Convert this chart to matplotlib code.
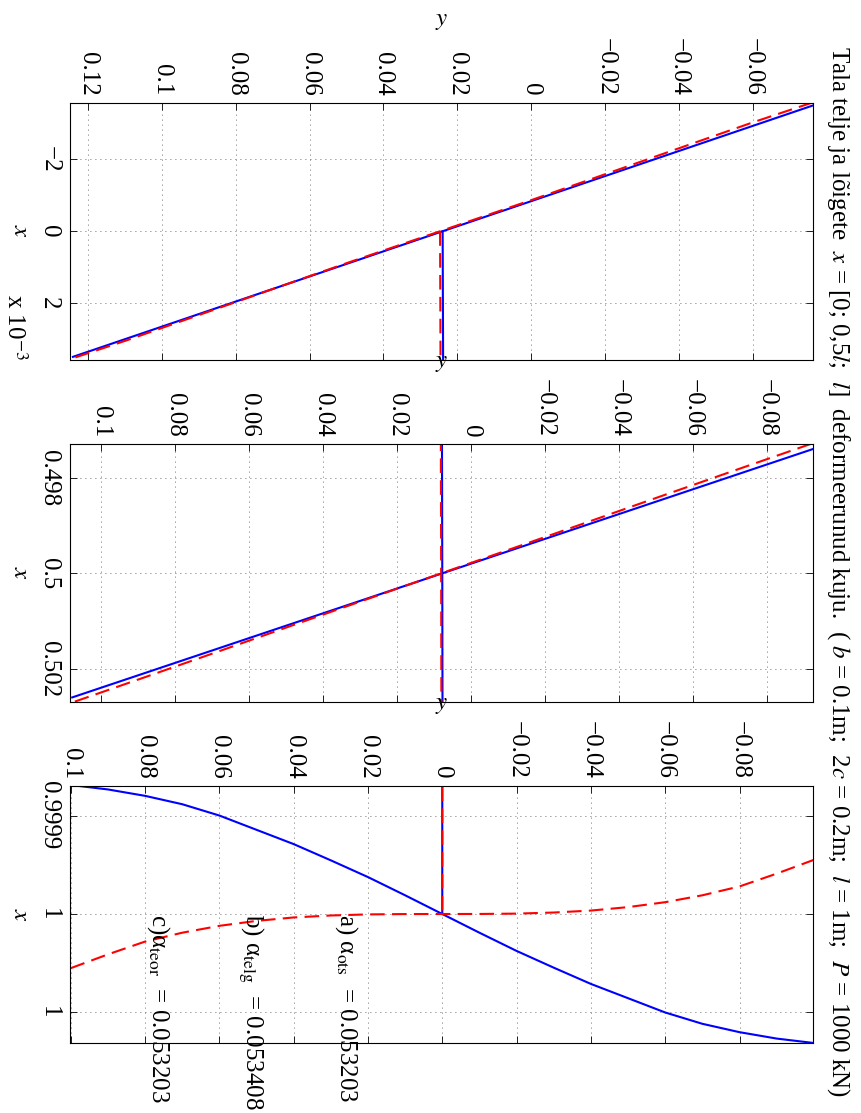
import matplotlib
matplotlib.use("Agg")
import matplotlib.pyplot as plt

plt.rcParams["font.family"] = ["Liberation Serif", "DejaVu Serif"]
plt.rcParams["mathtext.fontset"] = "stix"
plt.rcParams["font.size"] = 18

# beam axis: x along the beam, y = deflection
axis_x = [0.0, 0.25, 0.5, 0.75, 1.0]
axis_y_blue = [0.0240, 0.0152, 0.0077, 0.0021, 0.0]
axis_y_red = [0.0247, 0.0157, 0.0080, 0.0023, 0.0]

# section x = 0
sec0_y_blue = [-0.0760, 0.1240]
sec0_x_blue = [-0.00349, 0.00349]
sec0_y_red = [-0.0761, -0.0600, -0.0400, -0.0200, 0.0, 0.0247,
              0.0494, 0.0694, 0.0894, 0.1094, 0.1255]
sec0_x_red = [-0.003580, -0.003029, -0.002309, -0.001586, -0.000866, 0.0,
              0.000866, 0.001586, 0.002309, 0.003029, 0.003580]

# section x = 0.5l
sec1_y_blue = [-0.0923, 0.1077]
sec1_x_blue = [0.49740, 0.50260]
sec1_y_red = [-0.0920, -0.0720, -0.0520, -0.0320, -0.0120, 0.0080,
              0.0280, 0.0480, 0.0680, 0.0880, 0.1080]
sec1_x_red = [0.497285, 0.497825, 0.498368, 0.498915, 0.499459, 0.5,
              0.500541, 0.501085, 0.501632, 0.502175, 0.502715]

# section x = l
sec2_y = [0.1, 0.09, 0.08, 0.07, 0.06, 0.05, 0.04, 0.03, 0.02, 0.01, 0.0,
          -0.01, -0.02, -0.03, -0.04, -0.05, -0.06, -0.07, -0.08, -0.09, -0.1]
sec2_x_blue = [0.999869, 0.9998735, 0.999880, 0.9998885, 0.999900, 0.9999145,
               0.999929, 0.9999455, 0.9999625, 0.999981, 1.0,
               1.000019, 1.0000375, 1.0000545, 1.000071, 1.0000855,
               1.000100, 1.0001115, 1.000120, 1.0001265, 1.000131]
sec2_x_red = [1.000055, 1.000041, 1.000028, 1.000019, 1.000012, 1.000007,
              1.0000035, 1.0000015, 1.0000004, 1.00000005, 1.0,
              0.99999995, 0.9999996, 0.9999985, 0.9999965, 0.999993,
              0.999988, 0.999981, 0.999972, 0.999959, 0.999945]

sections = [
    (sec0_y_blue, sec0_x_blue, sec0_y_red, sec0_x_red),
    (sec1_y_blue, sec1_x_blue, sec1_y_red, sec1_x_red),
    (sec2_y, sec2_x_blue, sec2_y, sec2_x_red),
]

# axis limits (horizontal = y, vertical = x)
y_lims = [(0.1248, -0.0761), (0.1083, -0.0924), (0.1002, -0.0997)]
x_lims = [(0.0035780, -0.0035780), (0.502690, 0.497290), (1.0001313, 0.9998697)]

y_ticks = [
    [-0.06, -0.04, -0.02, 0, 0.02, 0.04, 0.06, 0.08, 0.1, 0.12],
    [-0.08, -0.06, -0.04, -0.02, 0, 0.02, 0.04, 0.06, 0.08, 0.1],
    [-0.08, -0.06, -0.04, -0.02, 0, 0.02, 0.04, 0.06, 0.08, 0.1],
]
x_ticks = [[-0.002, 0.0, 0.002], [0.498, 0.5, 0.502], [0.9999, 1.0, 1.0001]]
x_tick_labels = [["\u22122", "0", "2"], ["0.498", "0.5", "0.502"],
                 ["0.9999", "1", "1"]]

alpha_labels = ["a) \u03b1$_{\\rm ots}$  = 0.053203",
                "b) \u03b1$_{\\rm telg}$  = 0.053408",
                "c)\u03b1$_{\\rm teor}$  = 0.053203"]
alpha_label_y = [0.0257, 0.0516, 0.0763]

title = ("Tala telje ja l\u00f5igete  $x$ = [0; 0,5$l$;  $l$]  deformeerunud kuju.  "
         "( $b$ = 0.1m;  2$c$ = 0.2m;  $l$ = 1m;  $P$ = 1000 kN)")

fig = plt.figure(figsize=(8.61, 11.13), dpi=100)

W, H = 861.0, 1113.0
boxes = [(70, 102.5, 812.7, 360), (70, 444, 812.7, 701.7), (70, 785.7, 812.7, 1043.3)]

for i, (l, t, r, b) in enumerate(boxes):
    ax = fig.add_axes([l / W, 1 - b / H, (r - l) / W, (b - t) / H])
    yb, xb, yr, xr = sections[i]

    # blue: plane sections, red dashed: real shape
    ax.plot(yb, xb, color="b", lw=1.5)
    ax.plot(axis_y_blue, axis_x, color="b", lw=1.5)
    ax.plot(yr, xr, color="r", lw=1.5, linestyle="--", dashes=(7, 3.5))
    ax.plot(axis_y_red, axis_x, color="r", lw=1.5, linestyle="--", dashes=(7, 3.5))

    ax.set_xlim(*y_lims[i])
    ax.set_ylim(*x_lims[i])

    ax.set_xticks(y_ticks[i])
    ax.set_xticklabels([("%g" % v).replace("-", "\u2212") for v in y_ticks[i]])
    ax.set_yticks(x_ticks[i])
    ax.set_yticklabels(x_tick_labels[i])

    ax.xaxis.tick_top()
    ax.xaxis.set_label_position("top")
    ax.tick_params(direction="in", length=5, width=0.6,
                   top=True, bottom=True, left=True, right=True,
                   labeltop=True, labelbottom=False, labelleft=True, labelright=False)
    ax.tick_params(axis="x", labelrotation=-90, pad=5)
    ax.tick_params(axis="y", labelrotation=-90, pad=7)
    for lab in ax.get_yticklabels():
        lab.set_verticalalignment("center")

    ax.grid(True, color="0.25", linestyle=(0, (1, 5)), linewidth=0.6)
    for sp in ax.spines.values():
        sp.set_linewidth(0.8)

    ax.set_xlabel("$y$", va="center", ha="center")
    ax.xaxis.set_label_coords(0.5, 1 + 81 / (b - t))
    ax.set_ylabel("$x$", rotation=-90, va="center", ha="center")
    ax.yaxis.set_label_coords(-50 / (r - l), 0.5)

    if i == 0:
        ax.text(-55 / (r - l), 33 / (b - t), "x 10$^{-3}$", rotation=-90,
                transform=ax.transAxes, ha="center", va="center")
    if i == 2:
        for txt, yy in zip(alpha_labels, alpha_label_y):
            ax.text(yy, 1.0, txt, rotation=-90, ha="center", va="top")

fig.suptitle(title, x=838 / W, y=1 - 572 / H, rotation=-90,
             ha="center", va="center", fontsize=18)

fig.savefig("out.png", dpi=100, facecolor="white")
